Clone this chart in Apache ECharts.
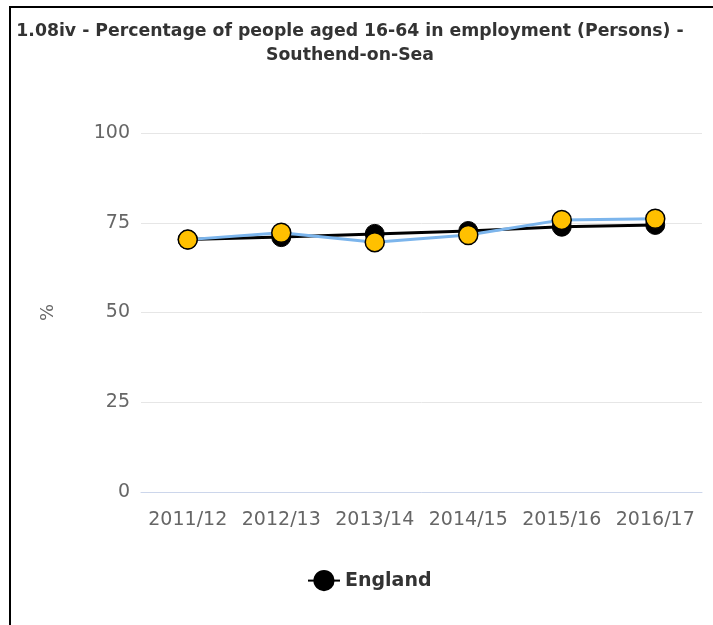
<!DOCTYPE html>
<html>
<head>
<meta charset="utf-8">
<script src="https://cdn.jsdelivr.net/npm/echarts@6/dist/echarts.min.js"></script>
<style>
  html, body { margin: 0; padding: 0; background: #fff; }
  #main { width: 713px; height: 625px; }
</style>
</head>
<body>
<div id="main"></div>
<script>
const years = ['2011/12', '2012/13', '2013/14', '2014/15', '2015/16', '2016/17']
const england = [70.3, 71.0, 71.9, 72.7, 73.9, 74.4]
const southend = [70.3, 72.2, 69.6, 71.6, 75.8, 76.1]
const yTicks = [0, 25, 50, 75, 100]

const chart = echarts.init(document.getElementById('main'), null, { renderer: 'canvas' })

const option = {
  animation: false,
  textStyle: { fontFamily: 'DejaVu Sans' },
  title: {
    text: '1.08iv - Percentage of people aged 16-64 in employment (Persons) -\nSouthend-on-Sea',
    left: 345,
    top: 15,
    textAlign: 'center',
    textStyle: {
      fontFamily: 'DejaVu Sans',
      fontSize: 17.3,
      fontWeight: 'bold',
      color: '#333',
      lineHeight: 24
    }
  },
  graphic: [
    // frame edges (left + top)
    { type: 'rect', shape: { x: 9, y: 6, width: 2, height: 625 }, style: { fill: '#000' } },
    { type: 'rect', shape: { x: 9, y: 6, width: 713, height: 2 }, style: { fill: '#000' } }
  ],
  legend: {
    data: ['England'],
    left: 302,
    top: 565,
    itemWidth: 32,
    itemHeight: 24,
    itemGap: 8,
    textStyle: { fontSize: 19, fontWeight: 'bold', color: '#333' }
  },
  grid: {
    left: 141,
    right: 11,
    top: 133,
    bottom: 133
  },
  xAxis: {
    type: 'category',
    data: years,
    boundaryGap: true,
    axisLine: { lineStyle: { color: '#ccd6eb', width: 1 } },
    axisTick: { alignWithLabel: true, length: 6, lineStyle: { color: '#ccd6eb' } },
    axisLabel: { color: '#666', fontSize: 19, margin: 19, interval: 0 }
  },
  yAxis: {
    type: 'value',
    min: yTicks[0],
    max: yTicks[yTicks.length - 1],
    interval: 25,
    name: '%',
    nameLocation: 'middle',
    nameGap: 84,
    nameRotate: 90,
    nameTextStyle: { color: '#666', fontSize: 18 },
    axisLine: { show: false },
    axisTick: { show: false },
    axisLabel: { color: '#666', fontSize: 19, margin: 11 },
    splitLine: { lineStyle: { color: '#e6e6e6', width: 1 } }
  },
  series: [
    {
      name: 'England',
      type: 'line',
      data: england,
      symbol: 'circle',
      symbolSize: 19,
      lineStyle: { color: '#000', width: 3 },
      itemStyle: { color: '#000', borderColor: '#000', borderWidth: 1 }
    },
    {
      name: 'Southend-on-Sea',
      type: 'line',
      data: southend,
      symbol: 'circle',
      symbolSize: 19,
      lineStyle: { color: '#7cb5ec', width: 3 },
      itemStyle: { color: '#ffc000', borderColor: '#000', borderWidth: 1.5 }
    }
  ]
}

chart.setOption(option)
</script>
</body>
</html>
